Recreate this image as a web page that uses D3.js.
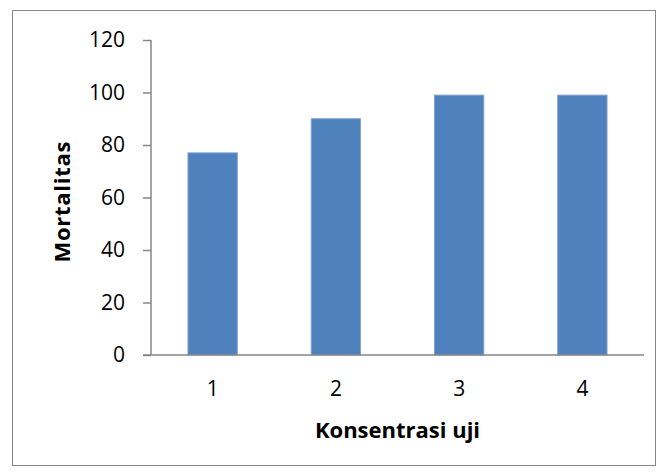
<!DOCTYPE html>
<html lang="en">
<head>
    <meta charset="UTF-8">
    <title>Mortalitas</title>
    <script src="https://cdn.jsdelivr.net/npm/d3@7/dist/d3.min.js"></script>
    <style>
        body { margin: 0; background: #fff; }
        svg { display: block; font-family: "Open Sans", sans-serif; }
    </style>
</head>
<body>
    <svg width="665" height="474"></svg>

    <script>
        const categories = ['1', '2', '3', '4'];
        const mortalitas = [77, 90, 99, 99];
        const yTicks = [0, 20, 40, 60, 80, 100, 120];

        const svg = d3.select('svg');
        const margin = {left: 151, right: 21, top: 40, bottom: 119};
        const width = 665 - margin.left - margin.right;
        const height = 474 - margin.top - margin.bottom;

        // outer chart frame
        svg.append('rect')
            .attr('x', 12.5).attr('y', 10.5)
            .attr('width', 643).attr('height', 455)
            .attr('fill', '#fff')
            .attr('stroke', '#868686')
            .attr('stroke-width', 1);

        const g = svg.append('g')
            .attr('transform', `translate(${margin.left}, ${margin.top})`);

        const x = d3.scaleBand().domain(categories).range([0, width]);
        const y = d3.scaleLinear().domain([0, 120]).range([height, 0]);

        const barW = x.bandwidth() * 0.4;
        g.selectAll('rect.bar')
            .data(mortalitas).enter().append('rect')
            .classed('bar', true)
            .attr('x', (d, i) => x(categories[i]) + (x.bandwidth() - barW) / 2)
            .attr('y', (d) => y(d))
            .attr('width', barW)
            .attr('height', (d) => height - y(d))
            .attr('fill', '#4f81bd')
            .attr('stroke', '#7ea3d3')
            .attr('stroke-width', 1);

        const yAxis = g.append('g')
            .call(d3.axisLeft(y).tickValues(yTicks).tickSize(8).tickPadding(18));
        const xAxis = g.append('g')
            .attr('transform', `translate(0, ${height})`)
            .call(d3.axisBottom(x).tickSize(0).tickPadding(26));

        [yAxis, xAxis].forEach((a) => {
            a.selectAll('path, line').attr('stroke', '#868686').attr('stroke-width', 1.5);
            a.selectAll('text')
                .attr('fill', '#000')
                .style('font-size', '21px')
                .style('font-family', '"Open Sans", sans-serif');
        });
        yAxis.select('.domain').attr('d', `M0,0V${height}`);
        xAxis.select('.domain').attr('d', `M-8,0H${width}`);

        svg.append('text')
            .attr('transform', `translate(70, 202) rotate(-90)`)
            .attr('text-anchor', 'middle')
            .attr('textLength', 121)
            .attr('lengthAdjust', 'spacing')
            .style('font-size', '22px')
            .style('font-weight', 'bold')
            .text('Mortalitas');

        svg.append('text')
            .attr('x', margin.left + width / 2)
            .attr('y', 438)
            .attr('text-anchor', 'middle')
            .style('font-size', '22px')
            .style('font-weight', 'bold')
            .text('Konsentrasi uji');
    </script>
</body>
</html>
